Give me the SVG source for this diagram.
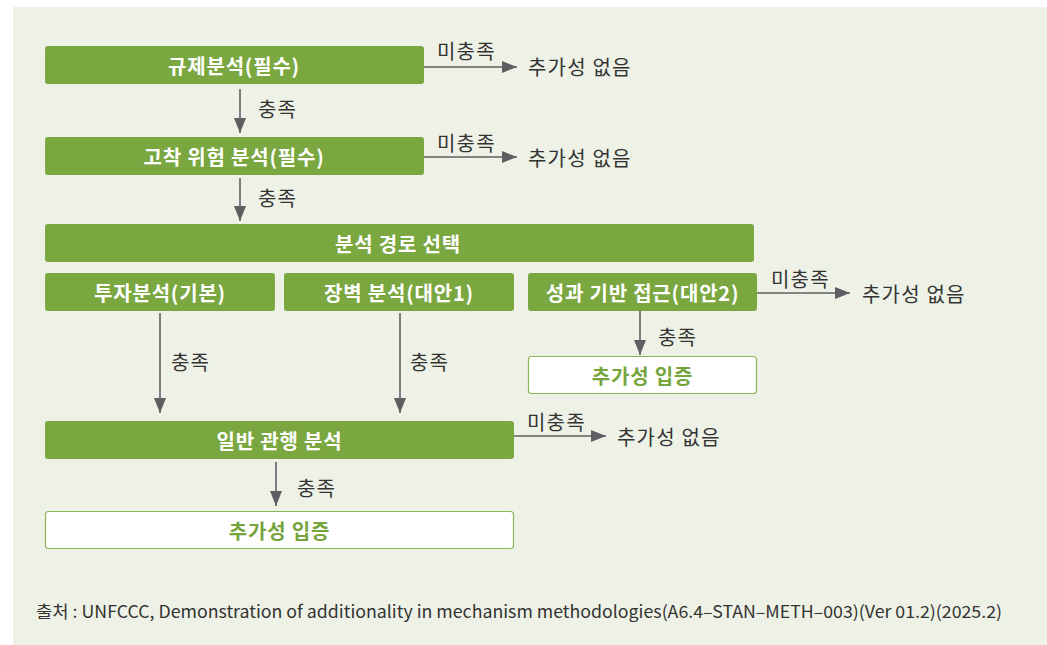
<svg xmlns="http://www.w3.org/2000/svg" width="1047" height="645" viewBox="0 0 1047 645">
<style>
.bg{fill:#EEF1E5}
.g{fill:#7AA740}
.w{fill:#FFFFFF;stroke:#8DB65A;stroke-width:1.2}
.bt{font-family:"Noto Sans CJK KR","Noto Sans",sans-serif;font-size:20px;letter-spacing:0.8px;font-weight:bold;fill:#FFFFFF;text-anchor:middle;dominant-baseline:central}
.gt{font-family:"Noto Sans CJK KR","Noto Sans",sans-serif;font-size:20px;letter-spacing:0.8px;font-weight:bold;fill:#76A43C;text-anchor:middle;dominant-baseline:central}
.lt{font-family:"Noto Sans CJK KR","Noto Sans",sans-serif;font-size:20px;letter-spacing:1.2px;fill:#333333;dominant-baseline:central}
.ft{font-family:"Noto Sans CJK KR","Liberation Sans",sans-serif;font-size:17px;fill:#333333}
.c{stroke:#5E5F63;stroke-width:1.6;fill:none;marker-end:url(#ah)}
</style>
<defs>
<marker id="ah" markerUnits="userSpaceOnUse" markerWidth="16" markerHeight="12" refX="15" refY="6" orient="auto">
<path d="M0,0 L15,6 L0,12 z" fill="#5E5F63"/>
</marker>
</defs>
<rect class="bg" x="13" y="7" width="1034" height="638"/>

<g id="n1"><rect class="g" x="45" y="46" width="379" height="38" rx="3"/><text class="bt" x="234" y="65">규제분석(필수)</text></g>
<g id="n2"><rect class="g" x="45" y="137" width="379" height="38" rx="3"/><text class="bt" x="234" y="156">고착 위험 분석(필수)</text></g>
<g id="n3"><rect class="g" x="45" y="224" width="709" height="38" rx="3"/><text class="bt" x="398" y="243">분석 경로 선택</text></g>
<g id="n4"><rect class="g" x="45" y="273" width="230" height="38" rx="3"/><text class="bt" x="160" y="292">투자분석(기본)</text></g>
<g id="n5"><rect class="g" x="284" y="273" width="230" height="38" rx="3"/><text class="bt" x="399" y="292">장벽 분석(대안1)</text></g>
<g id="n6"><rect class="g" x="528" y="273" width="229" height="38" rx="3"/><text class="bt" x="642.5" y="292">성과 기반 접근(대안2)</text></g>
<g id="n7"><rect class="w" x="528.5" y="356.5" width="228" height="37" rx="3"/><text class="gt" x="642.5" y="375">추가성 입증</text></g>
<g id="n8"><rect class="g" x="45" y="421" width="469" height="38" rx="3"/><text class="bt" x="279.5" y="440">일반 관행 분석</text></g>
<g id="n9"><rect class="w" x="45.5" y="511.5" width="468" height="37" rx="3"/><text class="gt" x="279.5" y="530">추가성 입증</text></g>

<g id="o1"><text class="lt" x="528" y="66">추가성 없음</text></g>
<g id="o2"><text class="lt" x="528" y="157">추가성 없음</text></g>
<g id="o3"><text class="lt" x="862" y="293">추가성 없음</text></g>
<g id="o4"><text class="lt" x="617" y="436">추가성 없음</text></g>

<g id="connectors">
<line class="c" x1="424" y1="67" x2="517" y2="67"/>
<text class="lt" x="437" y="50">미충족</text>
<line class="c" x1="240" y1="89" x2="240" y2="133"/>
<text class="lt" x="258" y="108">충족</text>
<line class="c" x1="424" y1="157" x2="517" y2="157"/>
<text class="lt" x="437" y="142">미충족</text>
<line class="c" x1="240" y1="178" x2="240" y2="221"/>
<text class="lt" x="258" y="197">충족</text>
<line class="c" x1="160" y1="313" x2="160" y2="413"/>
<text class="lt" x="171" y="361">충족</text>
<line class="c" x1="400" y1="313" x2="400" y2="413"/>
<text class="lt" x="410" y="361">충족</text>
<line class="c" x1="757" y1="293" x2="850" y2="293"/>
<text class="lt" x="771" y="278">미충족</text>
<line class="c" x1="640" y1="311" x2="640" y2="355"/>
<text class="lt" x="658" y="336">충족</text>
<line class="c" x1="514" y1="436" x2="606" y2="436"/>
<text class="lt" x="527" y="421">미충족</text>
<line class="c" x1="276" y1="462" x2="276" y2="506"/>
<text class="lt" x="297" y="487">충족</text>
</g>

<text class="ft" x="36" y="618" textLength="966" lengthAdjust="spacingAndGlyphs">출처 : UNFCCC, Demonstration of additionality in mechanism methodologies(A6.4–STAN–METH–003)(Ver 01.2)(2025.2)</text>
</svg>
